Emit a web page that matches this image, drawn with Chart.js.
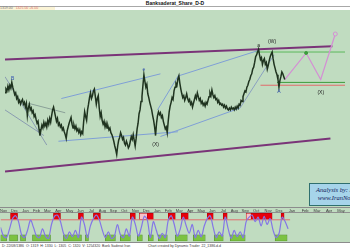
<!DOCTYPE html>
<html>
<head>
<meta charset="utf-8">
<script src="https://cdn.jsdelivr.net/npm/chart.js@4.4.1/dist/chart.umd.min.js"></script>
<style>
  body { margin:0; width:350px; height:250px; overflow:hidden; position:relative; background:#fff; font-family:"Liberation Sans", Arial, sans-serif; }
  #title { position:absolute; left:0; top:0; width:350px; height:6px; border-bottom:1px solid #a8a8a8; font-size:5px; font-weight:bold; text-align:center; line-height:6px; color:#111; }
  #info { position:absolute; left:0; top:7px; width:55px; height:3px; background:#fbf4d6; font-size:3.5px; line-height:3px; white-space:nowrap; }
  #info .a { color:#777; } #info .b { color:#e07070; margin-left:3px; }
  #main { position:absolute; left:0; top:10px; width:350px; height:197px; background:#c0dcc0; }
  #osc { position:absolute; left:0; top:207px; width:350px; height:36px; background:#c0dcc0; border-top:1px solid #8c8c8c; border-bottom:1px solid #8c8c8c; box-sizing:border-box; }
  #credit { position:absolute; left:309px; top:183px; width:60px; height:23px; background:#a6d4ea; border:1px solid #2f6f6f; box-sizing:border-box; font-family:"Liberation Serif", serif; font-style:italic; color:#13205a; font-size:6.5px; line-height:8px; padding:2px 0 0 6px; white-space:nowrap; }
  #foot { position:absolute; left:0; top:243px; width:350px; height:7px; font-size:3.5px; line-height:6px; color:#333; white-space:nowrap; }
</style>
</head>
<body>
<div id="title">Banksaderat_Share_D-D</div>
<div id="info"><span class="a">1319.00</span><span class="b">1325.00 +6.00</span></div>
<div id="main"><canvas id="priceChart"></canvas></div>
<div id="osc"><canvas id="oscChart"></canvas></div>
<div id="credit">Analysis by: Iran<br>&nbsp;www.IranNoor</div>
<div id="foot"><span style="margin-left:2px">D: 22/08/1386 &nbsp;O: 1319 &nbsp;H: 1330 &nbsp;L: 1305 &nbsp;C: 1320 &nbsp;V: 1254320 &nbsp;Bank Saderat Iran</span><span style="position:absolute;left:148px">Chart created by Dynamic Trader &nbsp;22_1386.d.d</span></div>

<script>
// daily closes (x10 rial), one per bar
const priceClose = [
  118,122,120,125,121,126,123,129,124,120,116,118,112,114,108,110,106,109,111,106,
  108,103,107,94,102,106,100,102,97,99,93,95,90,86,88,80,73,79,84,81,
  87,83,86,82,89,85,91,87,94,100,103,98,93,88,91,84,86,82,84,79,
  81,77,74,70,78,82,86,89,92,85,81,84,80,83,78,80,76,79,74,77,
  75,88,98,93,89,100,106,113,118,112,115,120,122,114,106,112,115,102,93,97,
  89,85,88,82,86,81,83,79,81,76,74,71,67,62,58,53,62,68,71,76,
  73,69,71,65,63,67,64,60,62,67,72,69,74,68,62,70,80,86,96,100,
  109,114,126,137,130,124,127,117,113,108,104,100,94,89,82,73,86,94,98,95,
  97,92,94,88,84,80,82,76,88,98,104,108,113,111,120,124,128,126,133,136,
  128,122,117,113,115,110,113,117,112,109,111,106,108,103,107,111,115,112,118,114,
  110,112,107,109,105,107,104,108,106,110,114,118,115,121,116,113,115,111,112,108,
  110,106,107,105,106,103,105,102,104,101,100,102,100,103,101,102,100,103,101,104,
  102,106,105,110,109,114,117,120,119,124,126,130,132,136,138,143,145,150,156,158,
  161,164,158,153,155,148,152,154,148,150,143,147,152,156,159,161,154,148,144,140,
  137,132,124,131,135,140,138,135,132
];

// trend lines: [day, price] end points
const upperRail    = [[0, 153], [337, 167]];
const lowerRail    = [[0, 35], [335, 70]];
const channelTopA  = [[58, 112], [160, 138]];
const channelBotA  = [[55, 67], [178, 77]];
const channelTopB  = [[179, 136], [262, 163]];
const channelBotB  = [[160, 72], [242, 102]];
const impulseLine  = [[157, 100], [179, 137]];
const steepLine    = [[242, 102], [277, 158]];
const fanUpper     = [[0, 135], [43, 63]];
const fanLower     = [[0, 100], [40, 73]];
const midLine      = [[24, 107], [62, 97]];
const supportRed   = [[263, 126], [350, 126]];
const supportGreen = [[280, 129], [350, 129]];
const resistGreen  = [[258, 161], [350, 161]];
const projection   = [[288, 132], [310, 160], [325, 132], [340, 180]];

// wave labels
const waveDay   = [8, 143, 155, 261, 275, 282, 325];
const wavePrice = [131, 141, 62, 166, 170, 118, 117];
const waveText  = ['B', 'e', '(X)', 'a', '(W)', 'A', '(X)'];
const waveColor = ['#3050b0', '#3050b0', '#222', '#222', '#222', '#3050b0', '#222'];

// oscillator panel
const monthPos   = [3, 14, 25, 36, 47, 58, 69, 80, 91, 102, 113, 124, 135, 146, 157, 168, 179, 190, 201, 212, 223, 234, 245, 256, 268, 279, 292, 305, 317, 329, 341];
const monthNames = ['Nov','Dec','Jan','Feb','Mar','Apr','May','Jun','Jul','Aug','Sep','Oct','Nov','Dec','Jan','Feb','Mar','Apr','May','Jun','Jul','Aug','Sep','Oct','Nov','Dec','Jan','Feb','Mar','Apr','May'];
const oscDays = [0,3,6,9,12,15,18,21,24,27,30,33,36,39,42,45,48,51,54,57,60,63,66,69,72,75,78,81,84,87,90,93,96,99,102,105,108,111,114,117,120,123,126,129,132,135,138,141,144,147,150,153,156,159,162,165,168,171,174,177,180,183,186,189,192,195,198,201,204,207,210,213,216,219,222,225,228,231,234,237,240,243,246,249,252,255,258,261,264,267,270,273,276,279,282,285,288];
const oscValues = [50,20,15,45,80,90,70,25,15,40,75,50,20,15,45,20,12,60,88,92,70,30,12,35,18,40,15,85,60,15,55,80,92,75,40,15,35,12,20,60,25,15,45,20,85,60,20,50,88,75,15,70,40,12,30,15,75,90,60,20,45,85,55,30,60,15,40,18,55,80,90,50,15,35,20,85,45,12,40,18,35,15,70,85,92,70,85,55,88,60,80,40,15,30,85,70,45];
const hotStart = [10, 53, 78, 93, 130, 139, 147, 168, 181, 207, 223, 246, 251, 281];
const hotEnd   = [17, 60, 83, 100, 135, 147, 153, 175, 188, 213, 227, 251, 272, 284];
const hotPale  = [false, false, false, false, false, true, false, false, false, false, false, true, false, false];
const coldStart = [0, 9, 20, 32, 63, 85, 105, 120, 137, 148, 158, 175, 193, 214, 230, 275];
const coldEnd   = [6, 17, 25, 50, 81, 88, 115, 130, 142, 153, 167, 187, 205, 223, 245, 287];

function pts(arr) {
  return arr.map(p => ({ x: p[0], y: p[1] }));
}
function seg(arr, color, width) {
  return { data: pts(arr), borderColor: color, borderWidth: width, pointRadius: 0, fill: false, tension: 0 };
}

const waveLabels = {
  id: 'waveLabels',
  afterDatasetsDraw(chart) {
    const { ctx, scales: { x, y } } = chart;
    ctx.save();
    ctx.font = '5px "Liberation Sans"';
    ctx.textAlign = 'center';
    waveText.forEach((t, i) => {
      ctx.fillStyle = waveColor[i];
      ctx.fillText(t, x.getPixelForValue(waveDay[i]), y.getPixelForValue(wavePrice[i]));
    });
    ctx.restore();
  }
};

new Chart(document.getElementById('priceChart'), {
  type: 'line',
  data: {
    datasets: [
      {
        data: priceClose.map((p, i) => ({ x: i, y: p })),
        borderColor: '#1f331f', borderWidth: 1.5, pointRadius: 0, tension: 0
      },
      {
        data: pts(projection), borderColor: '#d48ed4', borderWidth: 1.2,
        pointRadius: [0, 1.5, 0, 2], pointBackgroundColor: ['#d48ed4', '#3c9c3c', '#d48ed4', '#c0dcc0'],
        pointBorderColor: ['#d48ed4', '#3c9c3c', '#d48ed4', '#d48ed4'], pointBorderWidth: 1, tension: 0
      },
      seg(upperRail, '#7a3478', 2),
      seg(lowerRail, '#7a3478', 2),
      seg(supportRed, '#e06a6a', 1),
      seg(supportGreen, '#3c9c3c', 1),
      seg(resistGreen, '#5cb85c', 1),
      seg(steepLine, '#8aa0c0', 1),
      seg(impulseLine, '#7f9fd6', 1),
      seg(channelBotB, '#7f9fd6', 1),
      seg(channelTopB, '#7f9fd6', 1),
      seg(channelBotA, '#7f9fd6', 1),
      seg(channelTopA, '#7f9fd6', 1),
      seg(midLine, '#8aa098', 1),
      seg(fanLower, '#8a9cb0', 1),
      seg(fanUpper, '#8a9cb0', 1)
    ]
  },
  options: {
    responsive: true, maintainAspectRatio: false, animation: false,
    layout: { padding: 0 },
    plugins: { legend: { display: false }, tooltip: { enabled: false } },
    scales: {
      x: { type: 'linear', min: 0, max: 350, display: false },
      y: { type: 'linear', min: 3, max: 200, display: false }
    }
  },
  plugins: [waveLabels]
});

new Chart(document.getElementById('oscChart'), {
  type: 'line',
  data: {
    datasets: [
      {
        data: oscDays.map((d, i) => ({ x: d, y: oscValues[i] })),
        borderColor: '#8476e6', borderWidth: 1.2, pointRadius: 0, tension: 0.3
      },
      {
        data: [{ x: 0, y: 76 }, { x: 290, y: 76 }],
        borderColor: '#e07070', borderWidth: 1, pointRadius: 0
      },
      {
        type: 'bar', indexAxis: 'y', grouped: false, stack: 'band',
        data: hotStart.map((s, i) => ({ x: [s, hotEnd[i]], y: 88 })),
        backgroundColor: hotPale.map(p => p ? '#f6c2c8' : '#e8000c'),
        borderColor: '#b00000', borderWidth: 0.6, barThickness: 6, borderSkipped: false
      },
      {
        type: 'bar', indexAxis: 'y', grouped: false, stack: 'band',
        data: coldStart.map((s, i) => ({ x: [s, coldEnd[i]], y: 14 })),
        backgroundColor: '#7cc242', borderColor: '#4c8a2a', borderWidth: 0.6, barThickness: 6, borderSkipped: false
      }
    ]
  },
  options: {
    responsive: true, maintainAspectRatio: false, animation: false,
    layout: { padding: 0 },
    plugins: { legend: { display: false }, tooltip: { enabled: false } },
    scales: {
      x: {
        type: 'linear', position: 'top', min: 0, max: 350, offset: false,
        afterBuildTicks: axis => { axis.ticks = monthPos.map(v => ({ value: v })); },
        ticks: {
          autoSkip: false, maxRotation: 0, padding: 0,
          font: { size: 4, family: 'Liberation Sans' }, color: '#3a3a3a',
          callback: (v, i) => monthNames[i]
        },
        grid: { display: false, drawTicks: false, offset: false },
        border: { display: true, color: '#909090', width: 1 }
      },
      y: { type: 'linear', min: 0, max: 100, display: false, offset: false, grid: { offset: false } }
    }
  }
});
</script>
</body>
</html>
